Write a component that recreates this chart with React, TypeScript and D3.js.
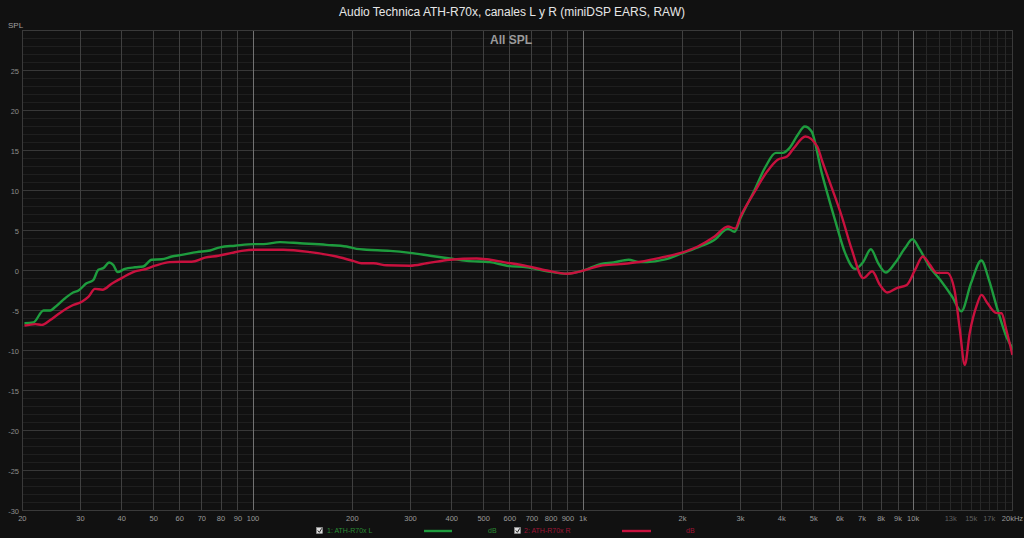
import * as d3 from 'd3';

// Left channel (green), [Hz, dB]
const leftCurve: [number, number][] = [
  [20.3, -6.6], [21.6, -6.5], [23.2, -5.0], [24.3, -5.0], [25.1, -4.6], [26.9, -3.5],
  [28.5, -2.75], [29.6, -2.5], [31.3, -1.6], [32.8, -1.2], [34.0, 0.1], [35.2, 0.3],
  [36.7, 1.0], [37.7, 0.7], [38.9, -0.2], [40.9, 0.2], [43.9, 0.4], [46.5, 0.5],
  [49.3, 1.35], [52.9, 1.4], [56.7, 1.75], [60.8, 1.95], [67.5, 2.3], [74.1, 2.5],
  [79.4, 2.9], [88.2, 3.1], [101, 3.3], [107.5, 3.3], [120.7, 3.55], [138.8, 3.4],
  [167, 3.2], [192, 3.0], [206, 2.7], [221, 2.6], [260, 2.45], [299, 2.2], [344, 1.85],
  [395, 1.5], [444, 1.2], [522, 1.05], [588, 0.6], [676, 0.4], [778, -0.1], [894, -0.4],
  [1003, 0], [1128, 0.8], [1237, 1.0], [1374, 1.35], [1476, 1.05], [1565, 1.05],
  [1760, 1.35], [1980, 2.1], [2226, 2.9], [2503, 3.85], [2747, 5.2], [2876, 4.85],
  [3000, 6.55], [3294, 9.9], [3574, 13], [3837, 14.7], [4024, 14.7], [4218, 15.3],
  [4478, 17.0], [4692, 18.0], [4920, 17.4], [5285, 12.2], [5800, 6.3], [6220, 2.2],
  [6670, 0.2], [7065, 1.1], [7445, 2.65], [7840, 0.9], [8260, -0.25], [8800, 0.9],
  [9450, 2.8], [9950, 3.9], [10480, 2.6], [11240, 0.4], [12070, -1.15], [13120, -3.25],
  [14000, -5.1], [14970, -1.6], [16100, 1.25], [16960, -1.15], [18020, -4.9],
  [19150, -8.25], [20300, -10.1],
];

// Right channel (red), [Hz, dB]
const rightCurve: [number, number][] = [
  [20.3, -6.9], [21.9, -6.7], [22.9, -6.8], [24.3, -6.2], [26.0, -5.3], [28.2, -4.4],
  [30.3, -3.9], [31.7, -3.3], [33.2, -2.3], [35, -2.4], [37.3, -1.65], [40, -0.95],
  [43.9, -0.1], [46.5, 0.1], [50.5, 0.6], [56, 1.05], [60.8, 1.1], [65.2, 1.1],
  [71.5, 1.6], [78.5, 1.85], [86.2, 2.2], [92.4, 2.45], [101, 2.6], [123.5, 2.6],
  [149, 2.3], [179, 1.75], [201, 1.2], [213, 0.9], [232, 0.9], [254, 0.65], [299, 0.6],
  [336, 0.9], [395, 1.35], [476, 1.5], [511, 1.4], [574, 1.05], [676, 0.55], [778, 0],
  [894, -0.4], [1025, 0.1], [1128, 0.6], [1296, 0.8], [1494, 1.1], [1719, 1.6],
  [1980, 2.2], [2226, 3.0], [2503, 4.25], [2747, 5.5], [2890, 5.25], [3000, 6.75],
  [3294, 9.7], [3615, 12.4], [3885, 13.85], [4147, 14.25], [4351, 15.3], [4715, 16.75],
  [5124, 15.5], [5285, 13.85], [5560, 11.3], [6080, 6.75], [6520, 2.6], [7065, -0.95],
  [7515, -0.1], [7930, -1.8], [8350, -2.75], [8920, -2.2], [9570, -1.8], [10140, 0.1],
  [10700, 1.75], [11240, 0.7], [11790, -0.3], [12680, -0.3], [13340, -2.4],
  [13850, -7.4], [14340, -11.8], [14840, -7.8], [15600, -4.3], [16100, -3.05],
  [16800, -4.1], [17830, -5.3], [18530, -5.35], [19150, -7.4], [19990, -10.55],
];

const freqTicks = [20, 30, 40, 50, 60, 70, 80, 90, 100, 200, 300, 400, 500, 600, 700, 800, 900,
  1000, 2000, 3000, 4000, 5000, 6000, 7000, 8000, 9000, 10000, 13000, 15000, 17000, 20000];
const freqLabels = ['20', '30', '40', '50', '60', '70', '80', '90', '100', '200', '300', '400', '500',
  '600', '700', '800', '900', '1k', '2k', '3k', '4k', '5k', '6k', '7k', '8k', '9k', '10k',
  '13k', '15k', '17k', '20kHz'];
const minorFreqs = [11000, 12000, 13000, 14000, 15000, 16000, 17000, 18000, 19000];
const dbTicks = [-30, -25, -20, -15, -10, -5, 0, 5, 10, 15, 20, 25];

const W = 1024;
const H = 538;
const left = 22.3;
const right = 1012.5;
const top = 30.5;
const bottom = 510.5;

const GREEN = '#1e9c3e';
const RED = '#c8113e';

// snap to pixel centre for crisp 1px grid lines
const crisp = (v: number) => Math.round(v - 0.5) + 0.5;

export default function App() {
  const x = d3.scaleLog().domain([20, 20000]).range([left, right]);
  const y = d3.scaleLinear().domain([-30, 30]).range([bottom, top]);

  const line = d3
    .line<[number, number]>()
    .x(d => x(d[0]))
    .y(d => y(d[1]))
    .curve(d3.curveMonotoneX);

  const minorDb = d3.range(-29, 30).filter(v => v % 5 !== 0);
  const font = 'Arial, "Liberation Sans", sans-serif';

  return (
    <svg width={W} height={H} style={{ position: 'absolute', left: 0, top: 0, background: '#111111' }}
      fontFamily={font}>
      <defs>
        <clipPath id="plot">
          <rect x={left} y={top} width={right - left} height={bottom - top} />
        </clipPath>
      </defs>
      <rect x={0} y={0} width={W} height={H} fill="#111111" />

      {/* minor grid */}
      {minorDb.map(v => (
        <line key={'mh' + v} x1={left} x2={right} y1={crisp(y(v))} y2={crisp(y(v))} stroke="#1f1f1f" strokeWidth={1} />
      ))}
      {minorFreqs.map(f => (
        <line key={'mv' + f} x1={crisp(x(f))} x2={crisp(x(f))} y1={top} y2={bottom} stroke="#282828" strokeWidth={1} />
      ))}

      {/* major grid */}
      {dbTicks.map(v => (
        <line key={'h' + v} x1={left} x2={right} y1={crisp(y(v))} y2={crisp(y(v))} stroke="#383838" strokeWidth={1} />
      ))}
      {freqTicks.filter(f => f <= 10000).map(f => {
        const decade = f === 100 || f === 1000 || f === 10000;
        return (
          <line key={'v' + f} x1={crisp(x(f))} x2={crisp(x(f))} y1={top} y2={bottom}
            stroke={decade ? '#727272' : '#404040'} strokeWidth={1} />
        );
      })}
      <rect x={crisp(left)} y={top} width={crisp(right) - crisp(left)} height={bottom - top} fill="none" stroke="#3a3a3a" />

      {/* curves */}
      <g clipPath="url(#plot)">
        <path d={line(leftCurve) ?? ''} fill="none" stroke={GREEN} strokeWidth={2.4} />
        <path d={line(rightCurve) ?? ''} fill="none" stroke={RED} strokeWidth={2.4} />
      </g>

      {/* y axis */}
      <text x={8} y={28} fontSize={8} fill="#a0a0a0">SPL</text>
      {dbTicks.map(v => (
        <text key={'yt' + v} x={19} y={y(v) + 3} fontSize={7.5} fill="#8c8c8c" textAnchor="end">{v}</text>
      ))}

      {/* x axis */}
      {freqTicks.map((f, i) => (
        <text key={'xt' + f} x={x(f)} y={521} fontSize={7.5} textAnchor="middle"
          fill={f > 10000 && f < 20000 ? '#5e5e5e' : '#9a9a9a'}>{freqLabels[i]}</text>
      ))}

      {/* titles */}
      <text x={512} y={16} fontSize={12} fill="#e6e6e6" textAnchor="middle">
        Audio Technica ATH-R70x, canales L y R (miniDSP EARS, RAW)
      </text>
      <text x={511} y={44} fontSize={12} fontWeight="bold" fill="#9a9a9a" textAnchor="middle">All SPL</text>

      {/* legend */}
      <g>
        <rect x={316.5} y={527.5} width={6} height={6} fill="#ddd" stroke="#999" strokeWidth={0.5} />
        <path d="M317.8,530.5 L319.4,532.3 L321.8,528.3" fill="none" stroke="#222" strokeWidth={1} />
        <text x={327} y={533} fontSize={7} fill="#2a8a34">1: ATH-R70x L</text>
        <line x1={424} x2={452} y1={531} y2={531} stroke={GREEN} strokeWidth={2.4} />
        <text x={488} y={533} fontSize={7} fill="#2a8a34">dB</text>

        <rect x={514.5} y={527.5} width={6} height={6} fill="#ddd" stroke="#999" strokeWidth={0.5} />
        <path d="M515.8,530.5 L517.4,532.3 L519.8,528.3" fill="none" stroke="#222" strokeWidth={1} />
        <text x={524} y={533} fontSize={7} fill="#9e1434">2: ATH-R70x R</text>
        <line x1={622} x2={651} y1={531} y2={531} stroke={RED} strokeWidth={2.4} />
        <text x={686} y={533} fontSize={7} fill="#9e1434">dB</text>
      </g>
    </svg>
  );
}
